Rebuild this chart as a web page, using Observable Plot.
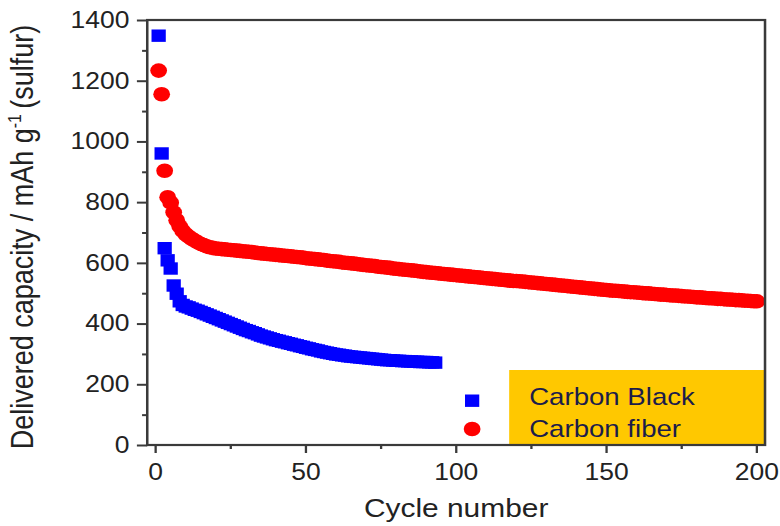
<!DOCTYPE html>
<html><head><meta charset="utf-8">
<script src="https://cdn.jsdelivr.net/npm/d3@7"></script>
<script src="https://cdn.jsdelivr.net/npm/@observablehq/plot@0.6"></script>
<style>
body{margin:0;background:#fff;}
#wrap{width:678px;height:526px;transform:scaleX(1.1504);transform-origin:0 0;}
</style>
</head><body><div id="wrap"></div>
<script>
const seriesNames = ["Carbon Black", "Carbon fiber"];
const carbonBlack = [1350, 962, 650, 610, 583, 527, 500, 475, 463, 458,
455, 451, 447, 444, 440, 436, 432, 428, 424, 420,
416, 412, 408, 404, 400, 396, 392, 388, 384, 380,
377, 373, 370, 366, 362, 359, 356, 353, 350, 347,
345, 342, 340, 337, 335, 332, 330, 327, 325, 322,
320, 317, 315, 313, 310, 308, 306, 304, 302, 300,
299, 297, 296, 294, 293, 292, 291, 290, 289, 288,
287, 286, 285, 284, 283, 282, 281, 281, 280, 279,
279, 278, 278, 277, 277, 276, 276, 275, 275, 275,
274, 274, 273];
const carbonFiber = [1235, 1157, 905, 818, 800, 768, 742, 722, 707, 696,
688, 681, 675, 669, 664, 660, 656, 653, 651, 649,
648, 647, 646, 645, 644, 643, 642, 641, 640, 639,
638, 637, 636, 634, 633, 632, 631, 630, 629, 628,
627, 626, 625, 624, 623, 622, 621, 620, 619, 617,
616, 615, 614, 613, 612, 611, 609, 608, 607, 606,
605, 603, 602, 601, 600, 599, 598, 596, 595, 594,
593, 592, 591, 589, 588, 587, 586, 585, 583, 582,
581, 580, 579, 578, 577, 576, 575, 573, 572, 571,
570, 569, 568, 567, 566, 565, 564, 563, 562, 561,
560, 559, 558, 557, 556, 555, 554, 553, 552, 551,
550, 549, 548, 547, 546, 545, 544, 543, 542, 542,
541, 540, 539, 538, 537, 536, 535, 534, 533, 532,
531, 530, 529, 528, 527, 526, 525, 524, 523, 522,
521, 520, 519, 518, 517, 516, 515, 514, 513, 512,
511, 510, 510, 509, 508, 507, 506, 505, 505, 504,
503, 502, 501, 501, 500, 499, 498, 497, 497, 496,
495, 494, 494, 493, 492, 491, 491, 490, 489, 488,
488, 487, 486, 485, 485, 484, 483, 483, 482, 481,
481, 480, 479, 479, 478, 477, 477, 476, 475, 475];
const xTicks = [0, 50, 100, 150, 200];
const xMinor = [25, 75, 125, 175];
const yTicks = [0, 200, 400, 600, 800, 1000, 1200, 1400];
const yMinor = [100, 300, 500, 700, 900, 1100, 1300];

const black = carbonBlack.map((v, i) => ({cycle: i + 1, cap: v}));
const fiber = carbonFiber.map((v, i) => ({cycle: i + 1, cap: v}));

const axisColor = "#3a3a3a";
const chart = Plot.plot({
  width: 678, height: 526,
  marginLeft: 128, marginRight: 13, marginTop: 20, marginBottom: 81,
  style: {fontFamily: "'Liberation Sans', Arial, sans-serif", fontSize: "23px", background: "white", color: "#222"},
  x: {domain: [-2.6, 202.9]},
  y: {domain: [0, 1400]},
  marks: [
    Plot.dot(black, {x: "cycle", y: "cap", symbol: "square", r: 7, fill: "#0000ff"}),
    Plot.dot(fiber, {x: "cycle", y: "cap", symbol: "circle", r: 7.3, fill: "#ff0000"}),
    Plot.axisX({ticks: xTicks, tickSize: 8, tickPadding: 10, stroke: axisColor, strokeWidth: 2, fill: "#222", label: null, tickFormat: d => String(d)}),
    Plot.axisX({ticks: xMinor, tickSize: 4, stroke: axisColor, strokeWidth: 2, label: null, tickFormat: () => ""}),
    Plot.axisY({ticks: yTicks, tickSize: 9, tickPadding: 7, stroke: axisColor, strokeWidth: 2, fill: "#222", label: null, tickFormat: d => String(d)}),
    Plot.axisY({ticks: yMinor, tickSize: 4.5, stroke: axisColor, strokeWidth: 2, label: null, tickFormat: () => ""})
  ]
});
document.getElementById("wrap").appendChild(chart);

const svg = d3.select(chart);
const xr = chart.scale("x").range, yr = chart.scale("y").range;

// Legend
const lg = svg.append("g").attr("text-anchor", "start");
lg.append("rect").attr("x", 442.6).attr("y", 370).attr("width", 221.7).attr("height", 74).attr("fill", "#ffc800");
const items = [
  {name: seriesNames[0], color: "#0000ff", sym: d3.symbolSquare, r: 7, y: 400.7, ty: 405},
  {name: seriesNames[1], color: "#ff0000", sym: d3.symbolCircle, r: 7.3, y: 429, ty: 436.7}
];
items.forEach(it => {
  lg.append("path")
    .attr("d", d3.symbol(it.sym, it.r * it.r * Math.PI)())
    .attr("transform", `translate(410.4,${it.y})`)
    .attr("fill", it.color);
  lg.append("text").attr("x", 460).attr("y", it.ty).attr("text-anchor", "start")
    .attr("font-size", 24).attr("fill", "#1c1c4a").text(it.name);
});

// Frame
svg.append("rect")
  .attr("x", Math.min(...xr)).attr("y", Math.min(...yr))
  .attr("width", Math.abs(xr[1] - xr[0])).attr("height", Math.abs(yr[1] - yr[0]))
  .attr("fill", "none").attr("stroke", axisColor).attr("stroke-width", 2.2);

// Axis titles
svg.append("text")
  .attr("x", (xr[0] + xr[1]) / 2).attr("y", 517)
  .attr("text-anchor", "middle")
  .attr("font-size", 26).attr("fill", "#222")
  .text("Cycle number");
const yl = svg.append("text")
  .attr("transform", "translate(29,237) rotate(-90)")
  .attr("text-anchor", "middle")
  .attr("font-size", 27).attr("fill", "#222");
yl.append("tspan").text("Delivered capacity / mAh g");
yl.append("tspan").attr("font-size", 16).attr("dy", -11).text("-1");
yl.append("tspan").attr("dy", 11).text("\u2009(sulfur)");
</script>
</body></html>
